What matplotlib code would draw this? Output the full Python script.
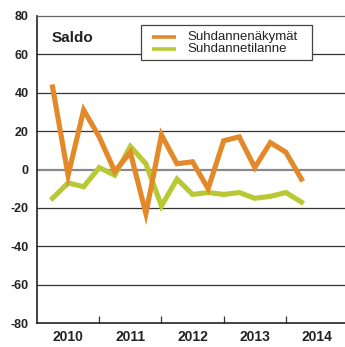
import matplotlib
matplotlib.use("Agg")
import matplotlib.pyplot as plt
from matplotlib.lines import Line2D
from matplotlib.patches import Rectangle
from matplotlib.ticker import FixedLocator, NullFormatter, FixedFormatter

plt.rcParams['font.family'] = ['Liberation Sans', 'DejaVu Sans']

# Quarterly survey balances
periods = ['2010Q1', '2010Q2', '2010Q3', '2010Q4',
           '2011Q1', '2011Q2', '2011Q3', '2011Q4',
           '2012Q1', '2012Q2', '2012Q3', '2012Q4',
           '2013Q1', '2013Q2', '2013Q3', '2013Q4',
           '2014Q1']
outlook = [43, -3, 31, 17, -1, 9, -23, 18, 3, 4, -10, 15, 17, 1, 14, 9, -5]
situation = [-15, -7, -9, 1, -3, 12, 3, -19, -5, -13, -12, -13, -12, -15, -14, -12, -17]
series_names = ['Suhdannenäkymät', 'Suhdannetilanne']
year_labels = ['2010', '2011', '2012', '2013', '2014']
y_ticks = [-80, -60, -40, -20, 0, 20, 40, 60, 80]

ORANGE = '#E3892A'
GREEN = '#B8C935'
W, H = 345, 347

# each quarter is placed at the end of its period within the year
x = [int(p[:4]) + int(p[5]) / 4 for p in periods]

fig = plt.figure(figsize=(W / 100, H / 100), dpi=100)
ax = fig.add_axes([37 / W, 24 / H, 308 / W, 307 / H])

for v in y_ticks[1:-1]:
    if v == 0:
        ax.axhline(v, color='#8a8a8a', lw=1.6, zorder=1)
    else:
        ax.axhline(v, color='#333333', lw=0.9, zorder=1)

ax.plot(x, outlook, color=ORANGE, lw=3.7, solid_joinstyle='miter', zorder=3)
ax.plot(x, situation, color=GREEN, lw=3.7, solid_joinstyle='miter', zorder=2)

first_year = int(year_labels[0])
ax.set_xlim(first_year, first_year + 4.95)
ax.set_ylim(y_ticks[0], y_ticks[-1])

ax.set_yticks(y_ticks)
ax.set_yticklabels([str(v) for v in y_ticks], fontsize=9, fontweight='bold', color='#222222')
ax.tick_params(axis='y', length=0, pad=6)

ax.xaxis.set_major_locator(FixedLocator([first_year + i for i in range(1, len(year_labels))]))
ax.xaxis.set_major_formatter(NullFormatter())
ax.xaxis.set_minor_locator(FixedLocator([first_year + i + 0.5 for i in range(len(year_labels))]))
ax.xaxis.set_minor_formatter(FixedFormatter(year_labels))
ax.tick_params(axis='x', which='major', direction='in', length=5, width=0.9, color='#333333')
ax.tick_params(axis='x', which='minor', length=0, pad=5, labelsize=10, labelcolor='#222222')
for lbl in ax.get_xticklabels(minor=True):
    lbl.set_fontweight('bold')

ax.spines['right'].set_visible(False)
ax.spines['top'].set_color('#666666')
ax.spines['top'].set_linewidth(0.9)
for s in ('left', 'bottom'):
    ax.spines[s].set_color('#222222')
    ax.spines[s].set_linewidth(1.2)

ax.text(52 / W, 1 - 38 / H, 'Saldo', transform=fig.transFigure, fontsize=11,
        fontweight='bold', color='#222222', va='center', ha='left')

# legend box drawn in figure coordinates
fx = lambda px: px / W
fy = lambda py: 1 - py / H
box = Rectangle((fx(141), fy(60)), fx(312) - fx(141), fy(25) - fy(60),
                transform=fig.transFigure, facecolor='white', edgecolor='#444444',
                lw=0.9, zorder=5)
fig.add_artist(box)
for i, (name, col) in enumerate(zip(series_names, [ORANGE, GREEN])):
    yy = fy(36.7 + 12.3 * i)
    fig.add_artist(Line2D([fx(152), fx(176)], [yy, yy], transform=fig.transFigure,
                          color=col, lw=2.6, solid_capstyle='butt', zorder=6))
    fig.text(fx(187), yy, name, fontsize=9.5, color='#222222', va='center',
             ha='left', zorder=6)

fig.savefig('out.png', dpi=100)
